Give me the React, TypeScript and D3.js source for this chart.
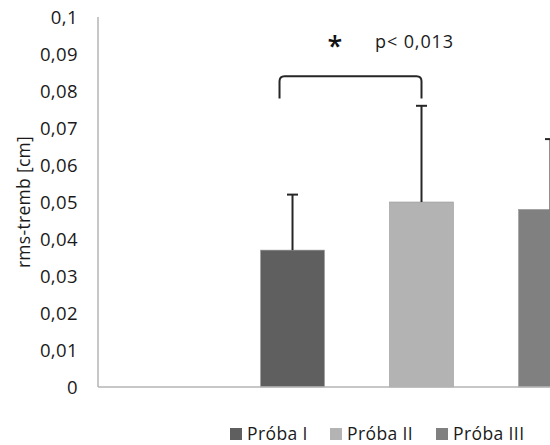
import React from "react";
import * as d3 from "d3";

const series = ["Próba I", "Próba II", "Próba III"];
const means = [0.037, 0.05, 0.048];
const errors = [0.015, 0.026, 0.019];
const colors = ["#5f5f5f", "#b3b3b3", "#808080"];
const yTicks = [0, 0.01, 0.02, 0.03, 0.04, 0.05, 0.06, 0.07, 0.08, 0.09, 0.1];
const bracketTop = 0.084;
const bracketEnd = 0.078;
const pLabel = "p< 0,013";

const W = 550;
const H = 445;
const fmt = (v: number) => (v === 0 ? "0" : String(+v.toFixed(2)).replace(".", ","));

export default function App() {
  const y = d3.scaleLinear().domain([0, 0.1]).range([387, 17]);
  const x = d3
    .scaleBand<string>()
    .domain(series)
    .range([98, 745])
    .paddingInner(0.504)
    .paddingOuter(1.26);
  const bw = x.bandwidth();
  const cx = (s: string) => (x(s) as number) + bw / 2;

  const bx0 = cx(series[0]) - 13;
  const bx1 = cx(series[1]);
  const r = 5;
  const bracket = d3.path();
  bracket.moveTo(bx0, y(bracketEnd));
  bracket.lineTo(bx0, y(bracketTop) + r);
  bracket.quadraticCurveTo(bx0, y(bracketTop), bx0 + r, y(bracketTop));
  bracket.lineTo(bx1 - r, y(bracketTop));
  bracket.quadraticCurveTo(bx1, y(bracketTop), bx1, y(bracketTop) + r);
  bracket.lineTo(bx1, y(bracketEnd));

  const font = "'Open Sans', 'Noto Sans', sans-serif";
  const legendText = [247, 347, 453];

  return (
    <svg
      width={W}
      height={H}
      style={{ position: "absolute", left: 0, top: 0, background: "#fff" }}
      fontFamily={font}
    >
      {/* bars */}
      {series.map((s, i) => (
        <rect
          key={s}
          x={x(s)}
          y={y(means[i])}
          width={bw}
          height={y(0) - y(means[i])}
          fill={colors[i]}
          stroke="#9a9a9a"
          strokeWidth={0.6}
        />
      ))}
      {/* error bars */}
      {series.map((s, i) => (
        <g key={s + "e"} stroke="#262626" strokeWidth={2}>
          <line x1={cx(s)} x2={cx(s)} y1={y(means[i])} y2={y(means[i] + errors[i])} />
          <line x1={cx(s) - 5.5} x2={cx(s) + 5.5} y1={y(means[i] + errors[i])} y2={y(means[i] + errors[i])} />
        </g>
      ))}
      {/* axes */}
      <line x1={98} x2={98} y1={y(0.1)} y2={y(0)} stroke="#b5b5b5" strokeWidth={1.5} />
      <line x1={98} x2={W} y1={y(0)} y2={y(0)} stroke="#b5b5b5" strokeWidth={1.5} />
      {yTicks.map((t) => (
        <text key={t} x={78} y={y(t)} dy="0.36em" textAnchor="end" fontSize={18.5} letterSpacing={0.4} fill="#1a1a1a">
          {fmt(t)}
        </text>
      ))}
      <text
        transform={`translate(30,${y(0.05)}) rotate(-90)`}
        textAnchor="middle"
        fontSize={17.5}
        letterSpacing={0.3}
        fill="#1a1a1a"
      >
        rms-tremb [cm]
      </text>
      {/* significance */}
      <path d={bracket.toString()} fill="none" stroke="#262626" strokeWidth={2} />
      <text x={335} y={56} textAnchor="middle" fontSize={27} fontWeight={600} fill="#111">
        *
      </text>
      <text x={375} y={48} fontSize={18} letterSpacing={0.9} fill="#1a1a1a">
        {pLabel}
      </text>
      {/* legend */}
      {series.map((s, i) => (
        <g key={s + "l"}>
          <rect x={legendText[i] - 17} y={428} width={12} height={12} fill={colors[i]} />
          <text x={legendText[i]} y={440} fontSize={17.5} letterSpacing={0.4} fill="#1a1a1a">
            {s}
          </text>
        </g>
      ))}
    </svg>
  );
}
